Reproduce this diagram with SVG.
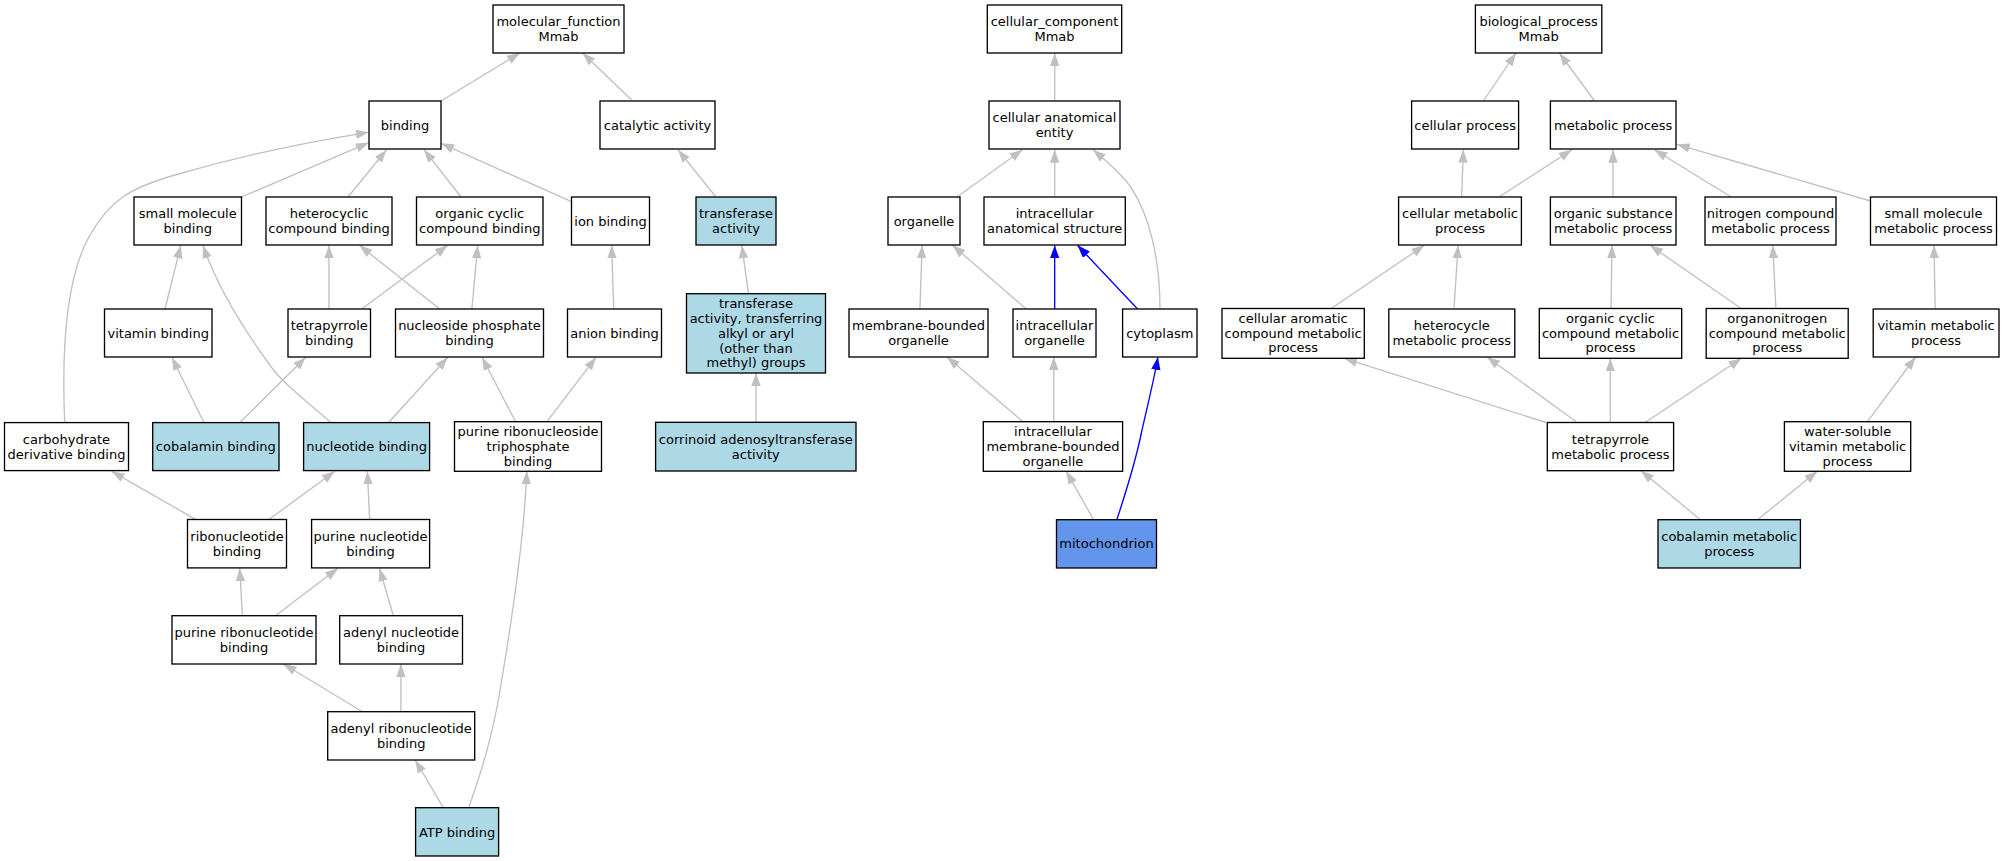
<svg xmlns="http://www.w3.org/2000/svg" width="2004" height="861" viewBox="0 0 2004 861">
<style>
.n rect{stroke:#000;stroke-width:1.33;fill:#fff}
.n.lb rect{fill:#add8e6}
.n.cb rect{fill:#6495ed}
text{font-family:"DejaVu Sans","Liberation Sans",sans-serif;font-size:13px;text-anchor:middle;fill:#000}
#edges path{stroke:#c0c0c0;stroke-width:1.33;fill:none;marker-end:url(#ag)}
#edges path.b{stroke:#0000ff;marker-end:url(#ab)}
</style>
<defs>
<marker id="ag" markerUnits="userSpaceOnUse" markerWidth="14" markerHeight="10" refX="13" refY="4.7" orient="auto"><path d="M0,0 L13,4.7 L0,9.4 z" fill="#c0c0c0"/></marker>
<marker id="ab" markerUnits="userSpaceOnUse" markerWidth="14" markerHeight="10" refX="13" refY="4.7" orient="auto"><path d="M0,0 L13,4.7 L0,9.4 z" fill="#0000ff"/></marker>
</defs>
<rect width="2004" height="861" fill="#fff"/>
<g id="edges">
<path d="M441,101 L520,53"/>
<path d="M631.7,100 L582.6,53"/>
<path d="M241.5,197 L368.8,142.7"/>
<path d="M348,197 L386.6,149.7"/>
<path d="M461,197 L424,149.7"/>
<path d="M571.4,201.7 L441,143.3"/>
<path d="M64.7,422.7 C62,360 64,280 90,235 C110,200 130,188 175,175 C240,156 300,143 368.8,132.3"/>
<path d="M165,309 L180.8,245.3"/>
<path d="M331,422.7 C305,400 285,385 272,368 C250,338 218,290 203,245.3"/>
<path d="M329,309 L329,245.3"/>
<path d="M361.6,309 L447.8,245.3"/>
<path d="M439.7,309 L359.4,245.3"/>
<path d="M471.9,309 L477.7,245.3"/>
<path d="M613.8,309 L611.6,245.3"/>
<path d="M204,422.7 L171.9,357.3"/>
<path d="M239.7,422.7 L305.8,357.3"/>
<path d="M388.4,422.7 L447.8,357.3"/>
<path d="M515.6,421.7 L482,357.3"/>
<path d="M546.9,421.7 L596,357.3"/>
<path d="M195.5,519.3 L111.6,471.3"/>
<path d="M269.2,519.3 L334.8,471.3"/>
<path d="M369.6,519.3 L367.4,471.3"/>
<path d="M242.4,615.7 L239.7,568.3"/>
<path d="M275.4,615.7 L338,568.3"/>
<path d="M393.3,615.7 L379.5,568.3"/>
<path d="M362.5,711.7 L283.5,664"/>
<path d="M400.9,711.7 L400.9,664"/>
<path d="M443.3,807.7 L415.2,760"/>
<path d="M468.75,807.7 C480,775 492,740 500,690 C512,620 524,540 526.8,471.3"/>
<path d="M715.9,197 L678,149.7"/>
<path d="M748.5,293.7 L741.8,245.3"/>
<path d="M756,422.3 L756,373"/>
<path d="M1054.7,101 L1054.7,53"/>
<path d="M957,197 L1022.6,149.7"/>
<path d="M1054.7,197 L1054.7,149.7"/>
<path d="M1160,309.3 C1160,260 1150,215 1130,186 C1120,172 1105,160 1093,149.7"/>
<path d="M919.9,309.3 L922.1,245.3"/>
<path d="M1026.6,309.3 L952.5,245.3"/>
<path class="b" d="M1054.7,309.3 L1054.7,245.3"/>
<path class="b" d="M1137.8,309.3 L1077.5,245.3"/>
<path d="M1023,421.7 L947,357"/>
<path d="M1053.8,421.7 L1053.8,357"/>
<path d="M1093.6,519.7 L1066.3,471.3"/>
<path class="b" d="M1116.8,519.7 C1125,495 1135,465 1142,430 C1150,395 1155,375 1157.9,357"/>
<path d="M1484,100 L1516,53"/>
<path d="M1594.6,101 L1559.4,53"/>
<path d="M1461.6,197 L1463.4,149.7"/>
<path d="M1499,197 L1571.9,149.7"/>
<path d="M1613,197 L1613,149.7"/>
<path d="M1731.2,197 L1654.4,149.7"/>
<path d="M1870.5,201 L1676.8,144.3"/>
<path d="M1330.8,308.7 L1424.5,245.3"/>
<path d="M1454,309.3 L1458,245.3"/>
<path d="M1611,308.7 L1612,245.3"/>
<path d="M1741.5,308.7 L1650,245.3"/>
<path d="M1775.9,308.7 L1772.8,245.3"/>
<path d="M1935.2,309.3 L1934,245.3"/>
<path d="M1546,422.5 L1344.2,358.3"/>
<path d="M1576.3,421.7 L1487,357"/>
<path d="M1610.3,422.3 L1610.3,358.3"/>
<path d="M1645.5,422.3 L1741.5,358.3"/>
<path d="M1867.4,421.7 L1915.6,357"/>
<path d="M1700.4,519.7 L1641,470.7"/>
<path d="M1757.6,519.7 L1817.4,471.3"/>
</g>
<g id="mf" class="n"><rect x="493" y="5" width="131" height="48"/><text x="558.5" y="26.1">molecular_function</text><text x="558.5" y="40.9">Mmab</text></g>
<g id="binding" class="n"><rect x="369" y="101" width="72" height="48"/><text x="405" y="129.5">binding</text></g>
<g id="catalytic" class="n"><rect x="600" y="101" width="115" height="48"/><text x="657.5" y="129.5">catalytic activity</text></g>
<g id="smb" class="n"><rect x="134" y="197" width="107.5" height="48"/><text x="187.75" y="218.1">small molecule</text><text x="187.75" y="232.9">binding</text></g>
<g id="hcb" class="n"><rect x="266" y="197" width="126" height="48"/><text x="329" y="218.1">heterocyclic</text><text x="329" y="232.9">compound binding</text></g>
<g id="occb" class="n"><rect x="416.5" y="197" width="126.5" height="48"/><text x="479.75" y="218.1">organic cyclic</text><text x="479.75" y="232.9">compound binding</text></g>
<g id="ionb" class="n"><rect x="571.5" y="197" width="78" height="48"/><text x="610.5" y="225.5">ion binding</text></g>
<g id="ta" class="n lb"><rect x="696" y="197" width="80" height="48"/><text x="736" y="218.1">transferase</text><text x="736" y="232.9">activity</text></g>
<g id="vb" class="n"><rect x="104.5" y="309" width="107.5" height="48"/><text x="158.25" y="337.5">vitamin binding</text></g>
<g id="tb" class="n"><rect x="288" y="309" width="82.5" height="48"/><text x="329.25" y="330.1">tetrapyrrole</text><text x="329.25" y="344.9">binding</text></g>
<g id="npb" class="n"><rect x="395.5" y="309" width="148" height="48"/><text x="469.5" y="330.1">nucleoside phosphate</text><text x="469.5" y="344.9">binding</text></g>
<g id="anb" class="n"><rect x="567.5" y="309" width="94" height="48"/><text x="614.5" y="337.5">anion binding</text></g>
<g id="tat" class="n lb"><rect x="686.5" y="293.7" width="139" height="79.3"/><text x="756" y="308.3">transferase</text><text x="756" y="323.05">activity, transferring</text><text x="756" y="337.8">alkyl or aryl</text><text x="756" y="352.55">(other than</text><text x="756" y="367.3">methyl) groups</text></g>
<g id="cdb" class="n"><rect x="4.5" y="422.6" width="124" height="48"/><text x="66.5" y="443.7">carbohydrate</text><text x="66.5" y="458.5">derivative binding</text></g>
<g id="cobb" class="n lb"><rect x="152.7" y="422.6" width="126.3" height="48"/><text x="215.85" y="451.1">cobalamin binding</text></g>
<g id="nb" class="n lb"><rect x="303.6" y="422.6" width="126" height="48"/><text x="366.6" y="451.1">nucleotide binding</text></g>
<g id="prtb" class="n"><rect x="454.5" y="421.7" width="147" height="49.6"/><text x="528" y="436.35">purine ribonucleoside</text><text x="528" y="451.1">triphosphate</text><text x="528" y="465.85">binding</text></g>
<g id="corr" class="n lb"><rect x="655.6" y="422.3" width="200.4" height="48.7"/><text x="755.8" y="443.7">corrinoid adenosyltransferase</text><text x="755.8" y="458.5">activity</text></g>
<g id="rb" class="n"><rect x="187.5" y="519.5" width="99" height="48.4"/><text x="237" y="540.8">ribonucleotide</text><text x="237" y="555.6">binding</text></g>
<g id="pnb" class="n"><rect x="311.6" y="519.5" width="118" height="48.4"/><text x="370.6" y="540.8">purine nucleotide</text><text x="370.6" y="555.6">binding</text></g>
<g id="prb" class="n"><rect x="172" y="615.7" width="144" height="48.3"/><text x="244" y="637.1">purine ribonucleotide</text><text x="244" y="651.9">binding</text></g>
<g id="anuc" class="n"><rect x="339.7" y="615.7" width="122.8" height="48.3"/><text x="401.1" y="637.1">adenyl nucleotide</text><text x="401.1" y="651.9">binding</text></g>
<g id="arb" class="n"><rect x="327.7" y="711.7" width="147" height="48.3"/><text x="401.2" y="733.1">adenyl ribonucleotide</text><text x="401.2" y="747.9">binding</text></g>
<g id="atp" class="n lb"><rect x="415.6" y="807.7" width="83" height="48.3"/><text x="457.1" y="836.5">ATP binding</text></g>
<g id="cc" class="n"><rect x="987.3" y="5" width="134.4" height="48"/><text x="1054.5" y="26.1">cellular_component</text><text x="1054.5" y="40.9">Mmab</text></g>
<g id="cae" class="n"><rect x="989" y="101" width="131" height="48"/><text x="1054.5" y="122.1">cellular anatomical</text><text x="1054.5" y="136.9">entity</text></g>
<g id="org" class="n"><rect x="888" y="197" width="72" height="48"/><text x="924" y="225.5">organelle</text></g>
<g id="ias" class="n"><rect x="984" y="197" width="141.3" height="48"/><text x="1054.65" y="218.1">intracellular</text><text x="1054.65" y="232.9">anatomical structure</text></g>
<g id="mbo" class="n"><rect x="849" y="309" width="139" height="48"/><text x="918.5" y="330.1">membrane-bounded</text><text x="918.5" y="344.9">organelle</text></g>
<g id="io" class="n"><rect x="1013" y="309" width="83" height="48"/><text x="1054.5" y="330.1">intracellular</text><text x="1054.5" y="344.9">organelle</text></g>
<g id="cyto" class="n"><rect x="1122.6" y="309" width="74.4" height="48"/><text x="1159.8" y="337.5">cytoplasm</text></g>
<g id="imbo" class="n"><rect x="983.3" y="421.7" width="139.3" height="49.6"/><text x="1052.95" y="436.35">intracellular</text><text x="1052.95" y="451.1">membrane-bounded</text><text x="1052.95" y="465.85">organelle</text></g>
<g id="mito" class="n cb"><rect x="1056.5" y="519.7" width="100" height="48.3"/><text x="1106.5" y="548.2">mitochondrion</text></g>
<g id="bp" class="n"><rect x="1475.4" y="5" width="126.4" height="48"/><text x="1538.6" y="26.1">biological_process</text><text x="1538.6" y="40.9">Mmab</text></g>
<g id="cp" class="n"><rect x="1411.6" y="101" width="107" height="48"/><text x="1465.1" y="129.5">cellular process</text></g>
<g id="mp" class="n"><rect x="1550.4" y="101" width="125.6" height="48"/><text x="1613.2" y="129.5">metabolic process</text></g>
<g id="cmp" class="n"><rect x="1398.6" y="197" width="122.8" height="48"/><text x="1460" y="218.1">cellular metabolic</text><text x="1460" y="232.9">process</text></g>
<g id="osmp" class="n"><rect x="1550.4" y="197" width="125.6" height="48"/><text x="1613.2" y="218.1">organic substance</text><text x="1613.2" y="232.9">metabolic process</text></g>
<g id="ncmp" class="n"><rect x="1705" y="197" width="131" height="48"/><text x="1770.5" y="218.1">nitrogen compound</text><text x="1770.5" y="232.9">metabolic process</text></g>
<g id="smmp" class="n"><rect x="1870.5" y="197" width="126" height="48"/><text x="1933.5" y="218.1">small molecule</text><text x="1933.5" y="232.9">metabolic process</text></g>
<g id="camp" class="n"><rect x="1222" y="308.5" width="142.3" height="49.8"/><text x="1293.15" y="322.75">cellular aromatic</text><text x="1293.15" y="337.5">compound metabolic</text><text x="1293.15" y="352.25">process</text></g>
<g id="hmp" class="n"><rect x="1388.8" y="309" width="126" height="48"/><text x="1451.8" y="330.1">heterocycle</text><text x="1451.8" y="344.9">metabolic process</text></g>
<g id="occmp" class="n"><rect x="1539.3" y="308.5" width="142.4" height="49.8"/><text x="1610.5" y="322.75">organic cyclic</text><text x="1610.5" y="337.5">compound metabolic</text><text x="1610.5" y="352.25">process</text></g>
<g id="oncmp" class="n"><rect x="1706.2" y="308.5" width="142" height="49.8"/><text x="1777.2" y="322.75">organonitrogen</text><text x="1777.2" y="337.5">compound metabolic</text><text x="1777.2" y="352.25">process</text></g>
<g id="vmp" class="n"><rect x="1873.2" y="309" width="125.8" height="48"/><text x="1936.1" y="330.1">vitamin metabolic</text><text x="1936.1" y="344.9">process</text></g>
<g id="tmp" class="n"><rect x="1547.3" y="422.5" width="126.3" height="48.2"/><text x="1610.45" y="443.7">tetrapyrrole</text><text x="1610.45" y="458.5">metabolic process</text></g>
<g id="wsvmp" class="n"><rect x="1784.4" y="421.7" width="126.3" height="49.6"/><text x="1847.55" y="436.35">water-soluble</text><text x="1847.55" y="451.1">vitamin metabolic</text><text x="1847.55" y="465.85">process</text></g>
<g id="cobmp" class="n lb"><rect x="1658" y="519.7" width="142.4" height="48.3"/><text x="1729.2" y="540.8">cobalamin metabolic</text><text x="1729.2" y="555.6">process</text></g>
</svg>
